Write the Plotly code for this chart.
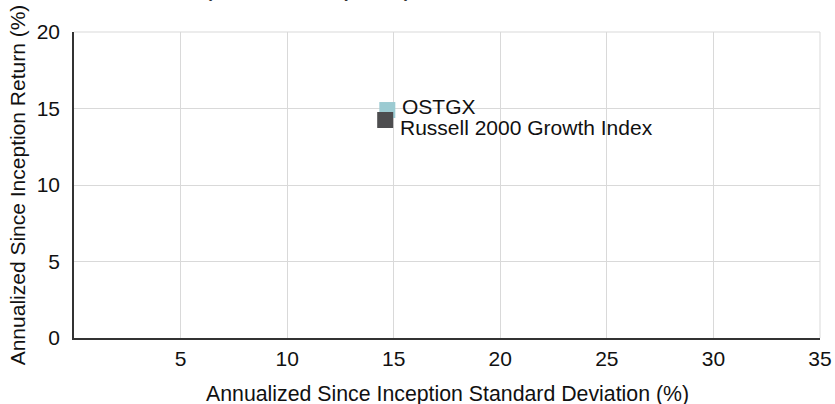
import plotly.graph_objects as go

# Data
names = ["OSTGX", "Russell 2000 Growth Index"]
std_dev = [14.7, 14.6]
returns = [14.9, 14.25]
colors = ["#9ccbd2", "#4d4d4f"]
x_ticks = [5, 10, 15, 20, 25, 30, 35]
y_ticks = [0, 5, 10, 15, 20]
label_shift = [4, -8]

FONT = "Liberation Sans, Arial, sans-serif"
FS = 21
TOP = 32

fig = go.Figure()
for n, x, y, c in zip(names, std_dev, returns, colors):
    fig.add_trace(go.Scatter(
        x=[x], y=[y], mode="markers", name=n,
        marker=dict(symbol="square", size=16, color=c, line=dict(width=0)),
        cliponaxis=False, showlegend=False,
    ))

for n, x, y, s in zip(names, std_dev, returns, label_shift):
    fig.add_annotation(x=x, y=y, xref="x", yref="y", text=n, showarrow=False,
                       xanchor="left", yanchor="middle", xshift=13, yshift=s,
                       font=dict(family=FONT, size=FS, color="#111111"))

# partially visible title at top
fig.add_annotation(x=0.3143, xref="paper", y=1.0, yref="paper", yshift=TOP - 3,
                   text="(Since Inception)", showarrow=False, xanchor="center",
                   yanchor="bottom", font=dict(family=FONT, size=28, color="#333333"))

# x-axis title
fig.add_annotation(x=0.5, xref="paper", y=0, yref="paper", yshift=-56,
                   text="Annualized Since Inception Standard Deviation (%)", showarrow=False,
                   xanchor="center", yanchor="middle",
                   font=dict(family=FONT, size=21.3, color="#111111"))

fig.update_layout(
    width=835, height=404,
    margin=dict(l=74, r=15, t=TOP, b=66),
    paper_bgcolor="white", plot_bgcolor="white",
    font=dict(family=FONT, size=FS, color="#111111"),
    xaxis=dict(range=[0, 35], tickvals=x_ticks, showgrid=True, gridcolor="#d9d9d9",
               gridwidth=1, zeroline=False, showline=True, linecolor="#333333", linewidth=2,
               mirror=False, ticks="", tickfont=dict(size=FS), ticklabelstandoff=1,
               automargin=False),
    yaxis=dict(range=[0, 20], tickvals=y_ticks, showgrid=True, gridcolor="#d9d9d9",
               gridwidth=1, zeroline=False, showline=True, linecolor="#333333", linewidth=1.5,
               ticks="", tickfont=dict(size=FS), ticklabelstandoff=8, automargin=False,
               title=dict(text="Annualized Since Inception Return (%)",
                          font=dict(size=FS), standoff=5)),
    shapes=[
        dict(type="line", xref="paper", yref="paper", x0=0, x1=1, y0=1, y1=1,
             line=dict(color="#d9d9d9", width=1)),
        dict(type="line", xref="paper", yref="paper", x0=1, x1=1, y0=0, y1=1,
             line=dict(color="#d9d9d9", width=1)),
    ],
)

# remove the browser's default page margin so the figure sits at the window's corner
fig.write_html("out.html", config={"displayModeBar": False},
               post_script="document.body.style.margin='0';document.body.style.overflow='hidden';")
